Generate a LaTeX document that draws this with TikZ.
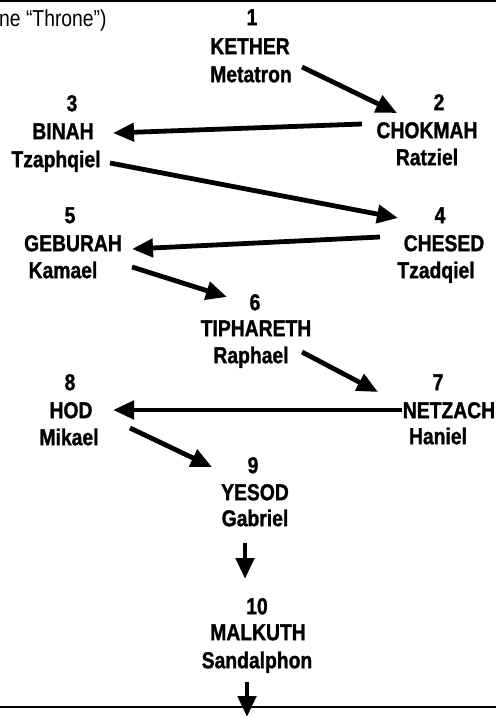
\documentclass[tikz,border=0pt]{standalone}
\usepackage{fontspec}
\setmainfont{Liberation Sans}[FakeStretch=0.84, BoldFeatures={FakeBold=1.2}]
\usetikzlibrary{arrows.meta}
\begin{document}
\begin{tikzpicture}[x=1pt,y=-1pt,
  lbl/.style={inner sep=0pt, font=\bfseries\fontsize{23}{25}\selectfont, text height=16.4pt, text depth=0pt, anchor=center},
  arr/.style={line width=4.8pt, -{Triangle[length=21pt,width=18pt]}},
  rulebar/.style={line width=2pt}]
\useasboundingbox (0,0) rectangle (496,717);
% rules
\draw[rulebar] (0,1.5) -- (496,1.5);
\draw[line width=1.6pt] (0,707) -- (496,707);
% top-left fragment
\node[inner sep=0pt, anchor=west, font=\fontsize{23}{25}\selectfont, text height=16.4pt, text depth=0pt] (throne) at (-1,18.5) {ne “Throne”)};
% 1
\node[lbl] (num1) at (252,17) {1};
\node[lbl] (name1) at (250,46) {KETHER};
\node[lbl] (angel1) at (251,74) {Metatron};
% 2
\node[lbl] (num2) at (439,102) {2};
\node[lbl] (name2) at (427,130) {CHOKMAH};
\node[lbl] (angel2) at (427,157) {Ratziel};
% 3
\node[lbl] (num3) at (72,103) {3};
\node[lbl] (name3) at (63,131) {BINAH};
\node[lbl] (angel3) at (56,159) {Tzaphqiel};
% 4
\node[lbl] (num4) at (440,215) {4};
\node[lbl] (name4) at (444,243) {CHESED};
\node[lbl] (angel4) at (436,270) {Tzadqiel};
% 5
\node[lbl] (num5) at (70,215) {5};
\node[lbl] (name5) at (73,243) {GEBURAH};
\node[lbl] (angel5) at (63,270) {Kamael};
% 6
\node[lbl] (num6) at (255,302) {6};
\node[lbl] (name6) at (256,328) {TIPHARETH};
\node[lbl] (angel6) at (251,355) {Raphael};
% 7
\node[lbl] (num7) at (438,382) {7};
\node[lbl] (name7) at (449,410) {NETZACH};
\node[lbl] (angel7) at (438,436) {Haniel};
% 8
\node[lbl] (num8) at (70,382) {8};
\node[lbl] (name8) at (71,410) {HOD};
\node[lbl] (angel8) at (69,437) {Mikael};
% 9
\node[lbl] (num9) at (253,465) {9};
\node[lbl] (name9) at (255,492) {YESOD};
\node[lbl] (angel9) at (255,518) {Gabriel};
% 10
\node[lbl] (num10) at (257,606) {10};
\node[lbl] (name10) at (258,632) {MALKUTH};
\node[lbl] (angel10) at (257,660) {Sandalphon};
\coordinate (below) at (247,717);
% arrows
\draw[arr] ([shift={(51,-7)}]angel1.center) -- ([shift={(-30,-17)}]name2.center);
\draw[arr] ([shift={(-65,-6)}]name2.center) -- ([shift={(50,2)}]name3.center);
\draw[arr] ([shift={(54,4)}]angel3.center) -- ([shift={(-42,3)}]num4.center);
\draw[arr] ([shift={(-64,-6)}]name4.center) -- ([shift={(59,6)}]name5.center);
\draw[arr] ([shift={(69,-3)}]angel5.center) -- ([shift={(-28,-5)}]num6.center);
\draw[arr] ([shift={(51,-3)}]angel6.center) -- ([shift={(-60,10)}]num7.center);
\draw[arr] ([shift={(-47,0)}]name7.center) -- ([shift={(42,0)}]name8.center);
\draw[arr] ([shift={(61,-9)}]angel8.center) -- ([shift={(-41,2)}]num9.center);
\draw[arr] ([shift={(-10,25)}]angel9.center) -- ([shift={(-12,-27)}]num10.center);
\draw[arr] ([shift={(-10,22)}]angel10.center) -- (below);
\end{tikzpicture}
\end{document}
